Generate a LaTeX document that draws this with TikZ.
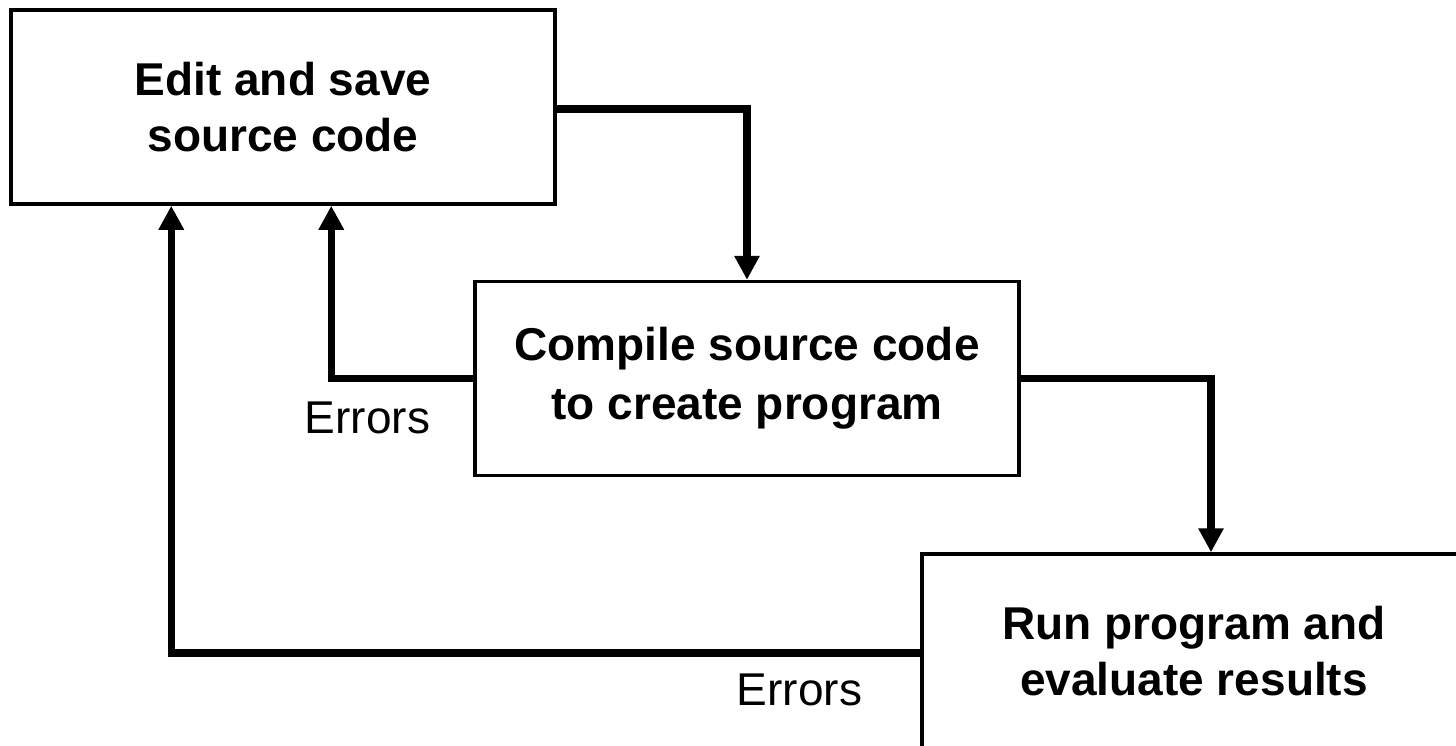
\documentclass[tikz,border=0pt]{standalone}
\usepackage{fontspec}
\setmainfont{Liberation Sans}
\usetikzlibrary{arrows.meta}
\tikzset{
  box/.style={draw, line width=3.5pt, fill=white, inner sep=0pt, minimum width=544pt, minimum height=194pt, align=center, font=\fontsize{46}{56}\selectfont\bfseries},
  conn/.style={line width=7.3pt, -{Triangle[length=24pt,width=24pt]}},
  lbl/.style={anchor=base, inner sep=0pt, font=\fontsize{46}{56}\selectfont}
}
\begin{document}
\begin{tikzpicture}[x=1pt,y=-1pt]
\useasboundingbox (0,0) rectangle (1456,746);
\clip (0,0) rectangle (1456,746);
\node[box] (b1) at (283,107) {Edit and save\\source code};
\node[box, font=\fontsize{46}{59}\selectfont\bfseries] (b2) at (747,378.5) {Compile source code\\to create program};
\node[box] (b3) at (1194,651) {Run program and\\evaluate results};
\draw[conn] ([yshift=-2pt]b1.east) -| (b2.north);
\draw[conn] (b2.west) -| ([xshift=322pt]b1.south west);
\draw[conn] (b2.east) -| ([xshift=17pt]b3.north);
\draw[conn] ([yshift=-2pt]b3.west) -| ([xshift=162pt]b1.south west);
\node[lbl] (e1) at (367.5,433) {Errors};
\node[lbl] (e2) at (799.5,705) {Errors};
\end{tikzpicture}
\end{document}
